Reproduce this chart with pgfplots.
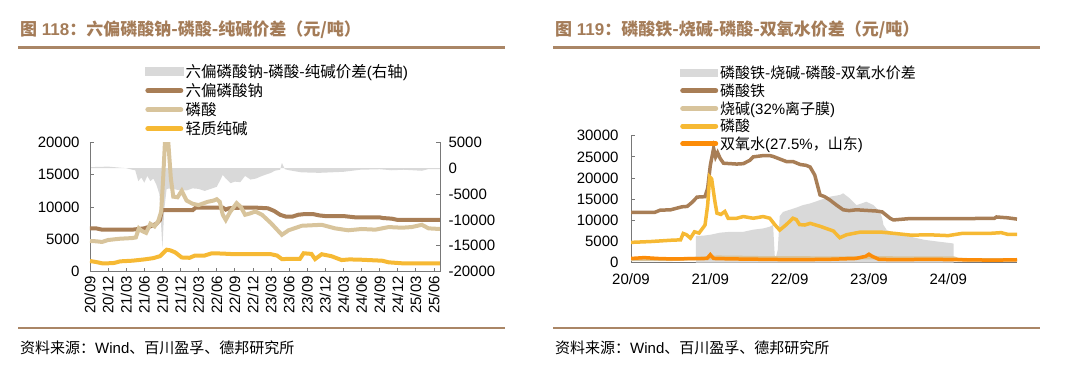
\documentclass[border=0pt]{standalone}
\usepackage{pgfplots}
\pgfplotsset{compat=1.18}
\usepackage{fontspec}
\setmainfont{Liberation Sans}
\newfontfamily\cjk{Noto Sans CJK SC}
\definecolor{ctitle}{RGB}{164,124,88}
\definecolor{crule}{RGB}{170,134,102}
\definecolor{cbrown}{RGB}{168,126,86}
\definecolor{ctan}{RGB}{216,196,156}
\definecolor{cyellow}{RGB}{246,185,52}
\definecolor{corange}{RGB}{252,140,8}
\definecolor{cgray}{RGB}{217,217,217}
\definecolor{caxis}{RGB}{120,120,120}

\pgfplotsset{
  base/.style={
    scale only axis,
    anchor=south west,
    /pgf/number format/assume math mode=true,
    /pgf/number format/1000 sep={},
    scaled y ticks=false,
    tick label style={font=\fontsize{15}{17}\selectfont},
    axis line style={caxis, line width=0.8pt},
    tick style={caxis, line width=0.8pt},
    major tick length=4pt,
  },
  linelegend/.style={legend image code/.code={\draw[##1, line width=5pt, line cap=round] (2.5pt,0pt) -- (35.5pt,0pt);}},
  arealegend/.style={legend image code/.code={\fill[cgray] (0pt,-4pt) rectangle (38pt,4pt);}},
}

\begin{document}
\begin{tikzpicture}[x=1pt,y=1pt]
\useasboundingbox (0,0) rectangle (1080,373);

% ---------- left panel frame ----------
\node[anchor=west, inner sep=0pt, text=ctitle, font=\fontsize{17}{19}\selectfont\bfseries] at (20,343)
  {{\cjk 图} 118{\cjk ：六偏磷酸钠-磷酸-纯碱价差（元/吨）}};
\draw[crule, line width=2.4pt] (18,325.5) -- (505,325.5);
\draw[crule, line width=2.4pt] (18,45) -- (505,45);
\node[anchor=west, inner sep=0pt, font=\fontsize{15}{17}\selectfont] at (20,25)
  {{\cjk 资料来源：}Wind{\cjk 、百川盈孚、德邦研究所}};

% ---------- right panel frame ----------
\node[anchor=west, inner sep=0pt, text=ctitle, font=\fontsize{17}{19}\selectfont\bfseries] at (555,343)
  {{\cjk 图} 119{\cjk ：磷酸铁-烧碱-磷酸-双氧水价差（元/吨）}};
\draw[crule, line width=2.4pt] (553,325.5) -- (1040,325.5);
\draw[crule, line width=2.4pt] (553,45) -- (1040,45);
\node[anchor=west, inner sep=0pt, font=\fontsize{15}{17}\selectfont] at (555,25)
  {{\cjk 资料来源：}Wind{\cjk 、百川盈孚、德邦研究所}};

% ---------- left chart: right axis (spread) ----------
\begin{axis}[base,
  at={(90pt,101.3pt)}, width=350pt, height=129.4pt,
  xmin=0, xmax=58, ymin=-20000, ymax=5000,
  axis x line=none, axis y line*=right,
  tick align=inside,
  ytick={-20000,-15000,-10000,-5000,0,5000},
  yticklabel style={anchor=west, xshift=5pt},
]
\addplot[fill=cgray, draw=none] coordinates {
(0,200) (3,300) (5,100) (6,0) (7,-300) (7.5,-400) (8,-2500) (8.5,-1800) (9,-2800) (9.5,-1500)
(10,-2500) (10.5,-2000) (11,-3200) (11.5,-5000) (12,-15500) (12.3,-8000) (12.7,-4000)
(13.5,-3900) (14.5,-4200) (16,-4300) (17,-3900) (18,-4000) (19,-4400) (20,-4000) (21,-3600)
(21.5,-2500) (22,-1300) (22.5,-2000) (23.3,-2900) (24,-2600) (24.9,-2700) (25.7,-1500)
(26.6,-2200) (27.5,-2000) (28.5,-1500) (30,-900) (30.6,-500) (31.5,-300) (31.8,1000)
(32.3,-200) (33,-400) (35,-800) (38,-900) (42,-700) (44.8,-300) (48,-200) (50,-400)
(52,-300) (55,-500) (56,-200) (58,-200)
} \closedcycle;
\end{axis}

% ---------- left chart: left axis (prices) ----------
\begin{axis}[base,
  at={(90pt,101.3pt)}, width=350pt, height=129.4pt,
  xmin=0, xmax=58, ymin=0, ymax=20000,
  axis y line*=left, axis x line*=bottom,
  tick align=inside,
  ytick={0,5000,10000,15000,20000},
  yticklabel style={anchor=east, xshift=-7pt},
  xtick={0,3,...,57},
  xticklabels={20/09,20/12,21/03,21/06,21/09,21/12,22/03,22/06,22/09,22/12,23/03,23/06,23/09,23/12,24/03,24/06,24/09,24/12,25/03,25/06},
  xticklabel style={rotate=90, anchor=east, xshift=-1pt},
  legend style={draw=none, fill=none, font=\fontsize{15.5}{17}\selectfont,
    at={(axis description cs:0.157,1.62)}, anchor=north west, row sep=0.5pt,
    inner sep=0pt},
  legend cell align=left,
]
\addlegendimage{arealegend}
\addlegendentry{{\cjk 六偏磷酸钠-磷酸-纯碱价差}({\cjk 右轴})}
\addplot[cbrown, line width=4pt, linelegend] coordinates {
(0,6700) (1,6700) (2,6500) (4,6500) (7,6500) (8,6600) (9,6700) (10,7000) (11,7400) (11.6,8000)
(11.9,9500) (13,9500) (15,9500) (17,9500) (17.5,9900) (20,9900) (22,9900) (22.5,9600) (23,9800)
(25,9900) (27.5,9900) (29.5,9800) (30.5,9400) (31.5,8800) (32.5,8500) (33.5,8500) (34.5,8800)
(35.5,8900) (37,8900) (38,8700) (39,8600) (42,8600) (44,8400) (48,8400) (48.5,8300) (50,8200)
(51,8000) (58,8000)
};
\addlegendentry{{\cjk 六偏磷酸钠}}
\addplot[ctan, line width=4pt, linelegend] coordinates {
(0,4750) (1,4700) (2,4600) (3,4900) (5,5100) (7,5200) (7.6,5300) (8.1,6700) (8.6,6300) (9.3,6000)
(10,7400) (10.7,7000) (11.3,7800) (11.8,9300) (12.1,14000) (12.5,21500) (12.9,21000) (13.4,14400)
(13.8,11600) (14.5,11500) (15.2,12500) (16,11000) (17,10500) (18,10300) (19.5,10800) (20.5,11000)
(21,11200) (21.5,10800) (22,8800) (22.5,8000) (23.2,9200) (24.3,10600) (25,10000) (25.7,8800)
(26.5,9000) (27.4,9300) (28.5,8800) (30,7500) (31.8,5700) (32.9,6400) (35.1,7100) (38.4,7250)
(40.6,6700) (42.8,6400) (45,6600) (47.3,6500) (49.5,6900) (51.7,6800) (53.3,6900) (55,7250)
(56.1,6700) (58,6600)
};
\addlegendentry{{\cjk 磷酸}}
\addplot[cyellow, line width=4pt, linelegend] coordinates {
(0,1650) (1,1500) (2,1300) (3,1300) (4,1350) (5,1600) (7,1700) (9,1900) (10.5,2100) (11.6,2400)
(12.7,3400) (13.3,3300) (14.1,3000) (15.2,2200) (16.5,2150) (17.4,2500) (19,2500) (20.2,2850)
(22,2800) (24,2700) (28,2700) (30,2700) (31,2500) (31.8,1950) (34,2000) (34.8,2000) (35.4,2850)
(36.7,2750) (37.3,1950) (38.4,2700) (40,2400) (41.7,1800) (43,1900) (45,1850) (48.4,1700)
(49.5,1450) (51.7,1300) (58,1300)
};
\addlegendentry{{\cjk 轻质纯碱}}
\end{axis}

% ---------- right chart ----------
\begin{axis}[base,
  at={(631pt,110.3pt)}, width=386pt, height=127pt,
  xmin=0, xmax=58.4, ymin=0, ymax=30000,
  axis y line*=left, axis x line*=bottom,
  tick align=inside,
  ytick={0,5000,10000,15000,20000,25000,30000},
  yticklabel style={anchor=east, xshift=-9pt},
  xtick={0,12,24,36,48},
  xticklabels={20/09,21/09,22/09,23/09,24/09},
  xticklabel style={anchor=north, yshift=-7pt},
  legend style={draw=none, fill=none, font=\fontsize{15}{16}\selectfont,
    at={(axis description cs:0.127,1.565)}, anchor=north west, row sep=-0.5pt,
    inner sep=0pt},
  legend cell align=left,
]
\addplot[fill=cgray, draw=none, arealegend] coordinates {
(9.8,6300) (11,6400) (12,6600) (13.5,7100) (15,7300) (17,7300) (18.5,7800) (20,8100) (21,8500)
(21.5,8900) (21.7,3000) (21.8,500) (22.2,3000) (22.5,11000) (23,12000) (24,12500) (25,13000)
(26,13600) (27.1,14000) (28.6,14800) (30.1,15600) (31.6,16000) (32.1,16400) (33.1,15200)
(34.1,13600) (34.9,14000) (35.6,14400) (36.7,13600) (37.7,12000) (38,10500) (38.2,8900)
(38.7,7700) (40.3,6900) (42.4,6100) (44.4,5400) (46.4,5000) (48.5,4600) (48.8,4500)
} \closedcycle;
\addlegendentry{{\cjk 磷酸铁-烧碱-磷酸-双氧水价差}}
\addplot[cbrown, line width=3.5pt, linelegend] coordinates {
(0,11900) (3.6,11900) (4.4,12400) (6,12500) (7.7,13200) (8.5,13300) (9.2,14200) (10,15500)
(11.2,15600) (11.6,17600) (12,23000) (12.5,27000) (12.8,25000) (13.1,26000) (13.5,24600)
(14,23500) (16,23300) (17,23400) (18,24200) (18.5,25000) (20,25300) (21,25300) (21.5,25100)
(22.5,24500) (23.5,23900) (24.5,23900) (25.6,23200) (26.5,23000) (27.1,22600) (27.8,20700)
(28.6,16000) (29.3,15600) (30.1,14800) (31.1,13600) (32.1,12500) (33,12300) (34.1,12500)
(37.2,12200) (38,12000) (39.2,10500) (39.7,10100) (42,10400) (50,10400) (55,10500)
(55.3,10800) (57,10600) (58.4,10300)
};
\addlegendentry{{\cjk 磷酸铁}}
\addplot[ctan, line width=3.5pt, linelegend] coordinates {
(0,800) (6,800) (9.8,1000) (12,1150) (13,1300) (16,1250) (20,1150) (24,1150) (28,1100)
(32,1100) (36,1200) (40,1100) (48.8,1100) (49.5,750) (52,650) (58.4,650)
};
\addlegendentry{{\cjk 烧碱}(32\%{\cjk 离子膜})}
\addplot[cyellow, line width=3.5pt, linelegend] coordinates {
(0,4800) (3,5000) (6,5300) (7.5,5400) (7.9,6900) (8.4,6600) (9,5800) (9.6,7300) (10.3,7000)
(11.2,8900) (11.6,13600) (11.9,20300) (12.2,19800) (12.7,14400) (13,11700) (13.6,11400)
(14.2,12100) (14.7,10500) (16,10500) (17,10900) (18.5,10500) (20,10900) (21,10500) (21.8,8900)
(22.5,7700) (23.5,9000) (24.5,10500) (25,10200) (25.5,9000) (26.3,8900) (27.1,9300) (28.6,8600)
(30.6,7500) (31.6,5900) (32.6,6600) (34.6,7200) (38,7200) (40,6900) (42.4,6500) (45,6600)
(48,6400) (50,6900) (54,6900) (56,7100) (57,6700) (58.4,6700)
};
\addlegendentry{{\cjk 磷酸}}
\addplot[corange, line width=3.5pt, linelegend] coordinates {
(0,1000) (2,1200) (4,1000) (6,900) (9,950) (11.5,1000) (12,1900) (12.5,1000) (15,900) (20,800)
(25,700) (30,800) (34,1000) (35.5,1500) (36,2000) (36.5,1500) (37.5,800) (40,700) (45,800)
(50,700) (55,600) (58.4,700)
};
\addlegendentry{{\cjk 双氧水}(27.5\%{\cjk ，山东})}
\end{axis}
\end{tikzpicture}
\end{document}
